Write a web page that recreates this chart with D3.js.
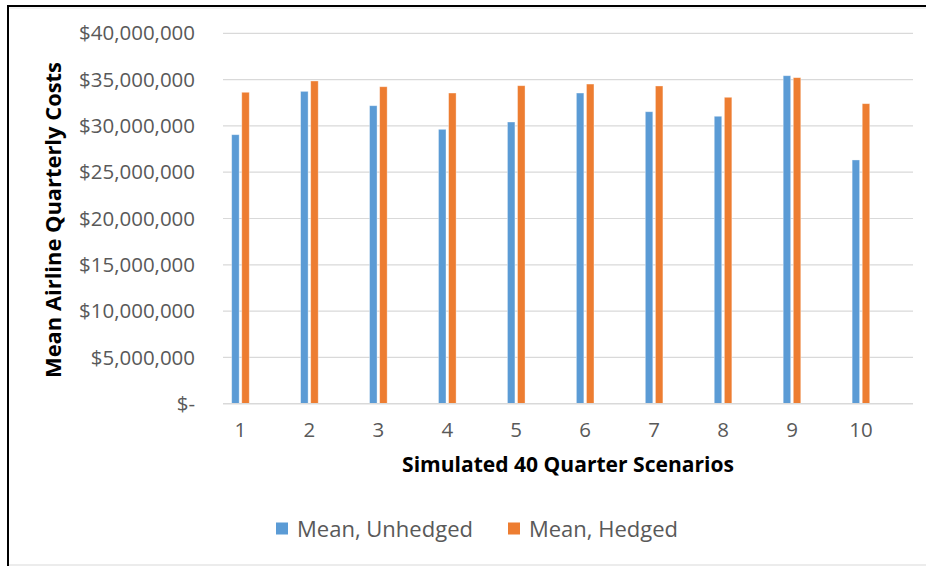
<!DOCTYPE html>
<html>
<head>
<meta charset="utf-8">
<script src="https://cdn.jsdelivr.net/npm/d3@7"></script>
<style>
  html, body { margin: 0; padding: 0; background: #fff; }
  svg { display: block; }
  text { font-family: "Open Sans", "Liberation Sans", sans-serif; }
</style>
</head>
<body>
<svg id="chart" width="926" height="566"></svg>
<script>
// ---- data ----
const categories = ["1", "2", "3", "4", "5", "6", "7", "8", "9", "10"];
const seriesNames = ["Mean, Unhedged", "Mean, Hedged"];
const unhedged = [29050000, 33730000, 32180000, 29630000, 30420000, 33550000, 31530000, 31040000, 35420000, 26320000];
const hedged   = [33630000, 34850000, 34230000, 33550000, 34340000, 34520000, 34310000, 33090000, 35210000, 32400000];
const yTicks = [0, 5000000, 10000000, 15000000, 20000000, 25000000, 30000000, 35000000, 40000000];
const seriesColors = ["#5B9BD5", "#ED7D31"];

const svg = d3.select("#chart");
const W = 926, H = 566;

// plot geometry
const plotLeft = 223, plotRight = 913, plotTop = 33.3, plotBottom = 403.7;

const y = d3.scaleLinear().domain([0, 40000000]).range([plotBottom, plotTop]);
const x0 = d3.scaleBand().domain(categories).range([206, 895.4]);
const x1 = d3.scaleBand().domain(seriesNames).range([0, 17.6]).paddingInner(0.257);

// frame
svg.append("rect").attr("x", 0).attr("y", 0).attr("width", W).attr("height", H).attr("fill", "#fff");
svg.append("line").attr("x1", 9).attr("x2", W).attr("y1", 565).attr("y2", 565).attr("stroke", "#d9d9d9").attr("stroke-width", 1);
svg.append("line").attr("x1", 9).attr("x2", W).attr("y1", 8).attr("y2", 8).attr("stroke", "#e6e6e6").attr("stroke-width", 1);
svg.append("line").attr("x1", 7).attr("x2", W).attr("y1", 6).attr("y2", 6).attr("stroke", "#000").attr("stroke-width", 2);
svg.append("line").attr("x1", 8).attr("x2", 8).attr("y1", 5).attr("y2", H).attr("stroke", "#000").attr("stroke-width", 2);

function fitWidth(sel, target) {
  const node = sel.node();
  const w = node.getComputedTextLength();
  const fs = parseFloat(sel.attr("font-size"));
  sel.attr("font-size", (fs * target / w).toFixed(2));
}

// gridlines
svg.append("g").selectAll("line").data(yTicks.filter(d => d > 0)).join("line")
  .attr("x1", plotLeft).attr("x2", plotRight)
  .attr("y1", d => y(d)).attr("y2", d => y(d))
  .attr("stroke", "#d9d9d9").attr("stroke-width", 1.2);

// y axis labels
const fmt = d => d === 0 ? "$-" : "$" + d3.format(",")(d);
const yLab = svg.append("g").selectAll("text").data(yTicks).join("text")
  .attr("x", 195).attr("y", d => y(d)).attr("dy", "0.35em")
  .attr("text-anchor", "end").attr("fill", "#595959").attr("font-size", 20)
  .text(fmt);
// size from widest label
{
  const n = yLab.filter(d => d === 40000000);
  const w = n.node().getComputedTextLength();
  yLab.attr("font-size", (20 * 116 / w).toFixed(2));
}

// bars
const groups = svg.append("g").selectAll("g").data(categories).join("g")
  .attr("transform", d => `translate(${x0(d) + x0.bandwidth() / 2 - 8.8},0)`);
groups.selectAll("rect").data((d, i) => [
    { s: seriesNames[0], v: unhedged[i], c: seriesColors[0] },
    { s: seriesNames[1], v: hedged[i], c: seriesColors[1] }
  ]).join("rect")
  .attr("x", d => x1(d.s)).attr("width", x1.bandwidth())
  .attr("y", d => y(d.v)).attr("height", d => y(0) - y(d.v))
  .attr("fill", d => d.c)
  .attr("stroke", "#ffffff").attr("stroke-opacity", 0.45).attr("stroke-width", 0.8);

// x axis line
svg.append("line").attr("x1", plotLeft).attr("x2", plotRight)
  .attr("y1", y(0)).attr("y2", y(0)).attr("stroke", "#d9d9d9").attr("stroke-width", 1.5);

// x labels
svg.append("g").selectAll("text").data(categories).join("text")
  .attr("x", d => x0(d) + x0.bandwidth() / 2).attr("y", 430).attr("dy", "0.35em")
  .attr("text-anchor", "middle").attr("fill", "#595959")
  .attr("font-size", yLab.attr("font-size"))
  .text(d => d);

// axis titles
const xt = svg.append("text").attr("x", 568).attr("y", 465).attr("dy", "0.35em")
  .attr("text-anchor", "middle").attr("font-weight", "bold").attr("fill", "#000")
  .attr("font-size", 20).text("Simulated 40 Quarter Scenarios");
fitWidth(xt, 332);

const yt = svg.append("text").attr("transform", "translate(53.5,220) rotate(-90)")
  .attr("dy", "0.35em")
  .attr("text-anchor", "middle").attr("font-weight", "bold").attr("fill", "#000")
  .attr("font-size", 20).text("Mean Airline Quarterly Costs");
fitWidth(yt, 316);

// legend
const legX = [276, 508];
const legTW = [176, 149];
const leg = svg.append("g").selectAll("g").data(seriesNames).join("g")
  .attr("transform", (d, i) => `translate(${legX[i]},529)`);
leg.append("rect").attr("x", 0).attr("y", -6.5).attr("width", 12).attr("height", 12)
  .attr("fill", (d, i) => seriesColors[i]);
leg.append("text").attr("x", 21).attr("y", 0).attr("dy", "0.35em")
  .attr("fill", "#595959").attr("font-size", 22).text(d => d)
  .each(function (d, i) { fitWidth(d3.select(this), legTW[i]); });
</script>
</body>
</html>
